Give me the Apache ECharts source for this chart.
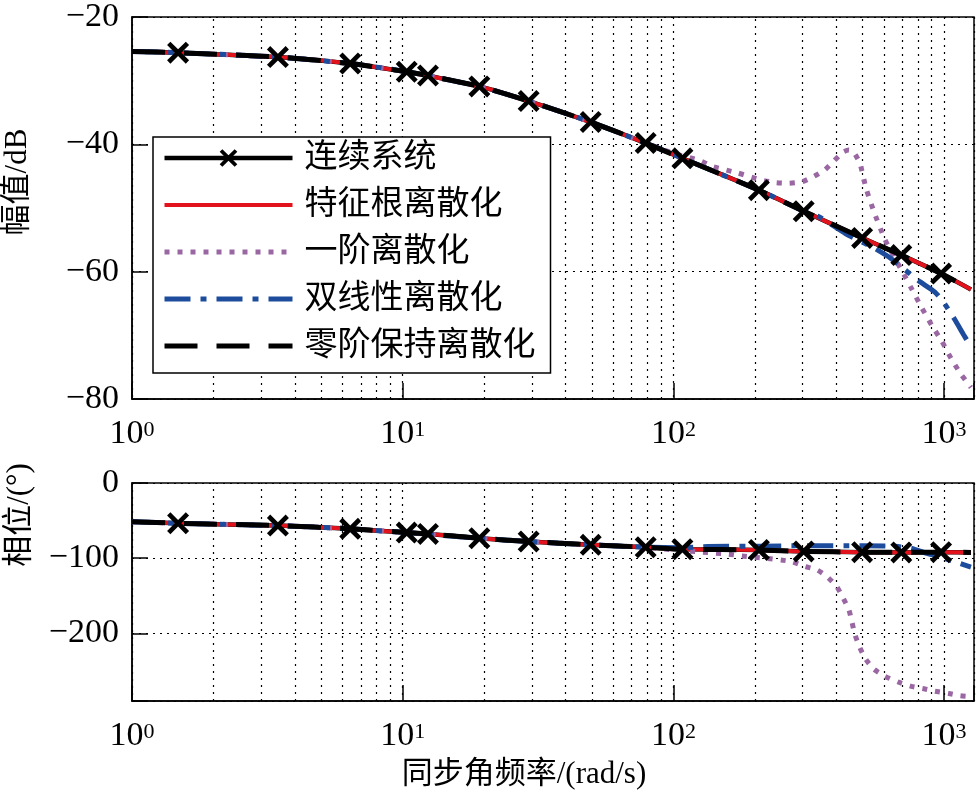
<!DOCTYPE html>
<html>
<head>
<meta charset="utf-8">
<script src="https://cdn.jsdelivr.net/npm/echarts@6/dist/echarts.min.js"></script>
<style>
html,body{margin:0;padding:0;background:#fff;}
#chart{width:977px;height:793px;}
</style>
</head>
<body>
<div id="chart"></div>
<script>
// ---------- data ----------
const seriesNames = ['连续系统', '特征根离散化', '一阶离散化', '双线性离散化', '零阶保持离散化'];
const xTitle = '同步角频率/(rad/s)';
const magTitle = '幅值/dB';
const phaseTitle = '相位/(°)';

// continuous system (markers at interior points)
const contFreq  = [1, 1.48, 3.46, 6.4, 10.35, 12.4, 19.2, 29.2, 49.5, 79, 108, 207, 303, 498, 695, 975, 1257];
const contMag   = [-25.4, -25.6, -26.3, -27.3, -28.6, -29.2, -30.9, -33.2, -36.5, -39.8, -42.2, -47.2, -50.5, -54.7, -57.4, -60.3, -62.8];
const contPhase = [-51.4, -53.6, -56.7, -61, -66, -67.7, -73.5, -77.9, -82.3, -85.4, -88, -89, -91, -92, -92.3, -92, -92.3];

// eigenvalue (root) discretization
const eigFreq  = [1, 1.48, 3.46, 6.4, 10.35, 12.4, 19.2, 29.2, 49.5, 79, 108, 207, 303, 498, 695, 975, 1257];
const eigMag   = [-25.4, -25.6, -26.3, -27.3, -28.6, -29.2, -30.9, -33.2, -36.5, -39.8, -42.2, -47.2, -50.5, -54.7, -57.4, -60.3, -62.8];
const eigPhase = [-51.4, -53.6, -56.7, -61, -66, -67.7, -73.5, -77.9, -82.3, -85.4, -88, -89, -91, -92, -92.3, -92, -92.3];

// first-order discretization
const foMagFreq = [1, 1.48, 3.46, 6.4, 10.35, 19.2, 29.2, 49.5, 79, 100, 124, 140, 173, 211, 238, 266, 298, 330, 363, 390, 424, 445, 463, 489, 515, 552, 604, 660, 710, 757, 818, 900, 980, 1061, 1150, 1257];
const foMag     = [-25.4, -25.6, -26.3, -27.3, -28.6, -30.9, -33.2, -36.5, -39.8, -41.4, -42.5, -43.5, -44.5, -45.6, -46.0, -46.1, -45.9, -45.05, -44.0, -42.7, -41.2, -40.9, -41.2, -43.0, -46.9, -50.7, -54.9, -58.0, -60.4, -62.6, -65.3, -68.4, -70.9, -73.6, -76.0, -78.2];
const foPhFreq  = [1, 1.48, 3.46, 6.4, 10.35, 19.2, 29.2, 49.5, 79, 100, 128, 160, 179, 218, 273, 306, 339, 368, 401, 421, 445, 456, 469, 489, 515, 552, 604, 680, 757, 850, 925, 1040, 1146, 1257];
const foPhase   = [-51.4, -53.6, -56.7, -61, -66, -73.5, -77.9, -82.3, -85.4, -89, -92, -94.7, -97, -100, -104.5, -111, -115.5, -124, -137.7, -151, -168.7, -184, -202, -219.5, -235, -248, -257, -265, -270.5, -274, -277, -280, -283, -284];

// bilinear discretization
const blMagFreq = [1, 1.48, 3.46, 6.4, 10.35, 19.2, 29.2, 49.5, 79, 108, 207, 303, 346, 432, 552, 640, 803, 925, 1010, 1098, 1181, 1257];
const blMag     = [-25.4, -25.6, -26.3, -27.3, -28.6, -30.9, -33.2, -36.5, -39.8, -42.2, -47.2, -50.5, -51.4, -54.0, -56.3, -58.0, -61.4, -63.2, -65.2, -67.6, -69.9, -71.8];
const blPhFreq  = [1, 1.48, 3.46, 6.4, 10.35, 19.2, 29.2, 49.5, 79, 108, 134, 207, 303, 498, 650, 760, 850, 920, 1000, 1100, 1257];
const blPhase   = [-51.4, -53.6, -56.7, -61, -66, -73.5, -77.9, -82.3, -85.4, -86, -84.5, -84, -83.5, -83.5, -84, -87, -93, -96, -100, -105, -112];

// zero-order-hold discretization
const zohFreq  = [1, 1.48, 3.46, 6.4, 10.35, 12.4, 19.2, 29.2, 49.5, 79, 108, 207, 303, 498, 695, 975, 1257];
const zohMag   = [-25.4, -25.6, -26.3, -27.3, -28.6, -29.2, -30.9, -33.2, -36.5, -39.8, -42.2, -47.2, -50.5, -54.7, -57.4, -60.3, -62.8];
const zohPhase = [-51.4, -53.6, -56.7, -61, -66, -67.7, -73.5, -77.9, -82.3, -85.4, -88, -89, -91, -92, -92.3, -92, -92.3];

// axes
const xRange = [1, 1290];
const magRange = [-80, -20];
const magStep = 20;
const phaseRange = [-290, 0];
const phaseStep = 100;
const minorGridX = [2,3,4,5,6,7,8,9,20,30,40,50,60,70,80,90,200,300,400,500,600,700,800,900];

// ---------- styling ----------
const SERIF = "'Liberation Serif', 'Times New Roman', 'Noto Sans CJK SC', serif";
const TITLE_FONT = "31px 'Liberation Serif', 'Noto Sans CJK SC', serif";
const C_RED = '#e3131d';
const C_PURPLE = '#9a67a3';
const C_BLUE = '#1e4c9c';
const X_SYMBOL = 'path://M0,15 L15,0 L50,35 L85,0 L100,15 L65,50 L100,85 L85,100 L50,65 L15,100 L0,85 L35,50 Z';
const W = { cont: 4.5, eig: 4, fo: 5, bl: 5, zoh: 5 };

const zip = (xs, ys) => xs.map((x, i) => [x, ys[i]]);
const minus = v => String(v).replace('-', '\u2212');

function xAxisCfg(gi) {
  return {
    type: 'log', logBase: 10, gridIndex: gi, min: xRange[0], max: xRange[1],
    axisLine: { onZero: false, lineStyle: { color: '#000', width: 1.5 } },
    axisTick: { inside: true, length: 16, lineStyle: { color: '#000', width: 1.5 } },
    splitLine: { show: true, lineStyle: { color: '#000', width: 1.2, type: [2, 5] } },
    axisLabel: {
      margin: 18,
      formatter: v => {
        const e = Math.log10(v), r = Math.round(e);
        if (Math.abs(e - r) > 1e-6) return '';
        return '{b|10}{s|' + r + '}';
      },
      rich: {
        b: { fontSize: 34, fontFamily: SERIF, color: '#000', lineHeight: 34 },
        s: { fontSize: 22, fontFamily: SERIF, color: '#000', lineHeight: 22, padding: [0, 0, 8, 0] }
      }
    }
  };
}
function yAxisCfg(gi, range, step, useSplitNumber) {
  const cfg = {
    type: 'value', gridIndex: gi, min: range[0], max: range[1],
    axisLine: { show: true, onZero: false, lineStyle: { color: '#000', width: 1.5 } },
    axisTick: { inside: true, length: 16, lineStyle: { color: '#000', width: 1.5 } },
    splitLine: { show: true, lineStyle: { color: '#000', width: 1.2, type: [2, 5] } },
    axisLabel: {
      margin: 13, fontSize: 34, fontFamily: SERIF, color: '#000',
      formatter: v => (Math.abs(v % step) > 1e-6 ? '' : minus(v))
    }
  };
  if (useSplitNumber) cfg.splitNumber = 3; else cfg.interval = step;
  return cfg;
}
function markGrid() {
  return {
    silent: true, symbol: ['none', 'none'], label: { show: false }, z: 1, animation: false,
    lineStyle: { color: '#000', width: 1.2, type: [2, 5] },
    emphasis: { disabled: true },
    data: minorGridX.map(v => ({ xAxis: v }))
  };
}
function lineSeries(name, gi, data, style, z, extra) {
  return Object.assign({
    name, type: 'line', xAxisIndex: gi, yAxisIndex: gi, data,
    symbol: 'none', showSymbol: false, smooth: 0.2, z,
    lineStyle: style, itemStyle: { color: style.color },
    emphasis: { disabled: true }, animation: false
  }, extra || {});
}

const series = [];
[0, 1].forEach(gi => {
  const mag = gi === 0;
  series.push(lineSeries(seriesNames[0], gi, zip(contFreq, mag ? contMag : contPhase),
    { color: '#000', width: W.cont, type: 'solid' }, 2,
    { symbol: X_SYMBOL, symbolSize: 21, itemStyle: { color: '#000', opacity: 1 }, markLine: markGrid() }));
  series.push(lineSeries(seriesNames[1], gi, zip(eigFreq, mag ? eigMag : eigPhase),
    { color: C_RED, width: W.eig, type: 'solid' }, 3));
  series.push(lineSeries(seriesNames[2], gi, mag ? zip(foMagFreq, foMag) : zip(foPhFreq, foPhase),
    { color: C_PURPLE, width: W.fo, type: [5, 8], cap: 'butt' }, 4));
  series.push(lineSeries(seriesNames[3], gi, mag ? zip(blMagFreq, blMag) : zip(blPhFreq, blPhase),
    { color: C_BLUE, width: W.bl, type: [26, 10, 6, 10], cap: 'butt' }, 5));
  series.push(lineSeries(seriesNames[4], gi, zip(zohFreq, mag ? zohMag : zohPhase),
    { color: '#000', width: W.zoh, type: [33, 19], cap: 'butt' }, 6));
  // markers of the continuous system drawn on top
  series.push({
    name: seriesNames[0] + '标记', type: 'scatter', xAxisIndex: gi, yAxisIndex: gi,
    data: zip(contFreq, mag ? contMag : contPhase).slice(1, -1),
    symbol: X_SYMBOL, symbolSize: 22, itemStyle: { color: '#000', opacity: 1 }, z: 8,
    emphasis: { disabled: true }, animation: false, silent: true
  });
});

const hidden = { opacity: 0 };
const chart = echarts.init(document.getElementById('chart'), null, { renderer: 'canvas' });
chart.setOption({
  animation: false,
  backgroundColor: '#fff',
  grid: [
    { left: 132, top: 12, width: 844, height: 387, show: true, borderColor: '#000', borderWidth: 1.5, backgroundColor: 'transparent' },
    { left: 132, top: 483, width: 844, height: 218, show: true, borderColor: '#000', borderWidth: 1.5, backgroundColor: 'transparent' }
  ],
  xAxis: [xAxisCfg(0), xAxisCfg(1)],
  yAxis: [yAxisCfg(0, magRange, magStep, false), yAxisCfg(1, phaseRange, phaseStep, true)],
  legend: {
    data: [
      { name: seriesNames[0], lineStyle: { width: W.cont }, itemStyle: { color: '#000', opacity: 1 } },
      { name: seriesNames[1], lineStyle: { width: W.eig }, itemStyle: hidden },
      { name: seriesNames[2], lineStyle: { width: W.fo }, itemStyle: hidden },
      { name: seriesNames[3], lineStyle: { width: W.bl }, itemStyle: hidden },
      { name: seriesNames[4], lineStyle: { width: W.zoh }, itemStyle: hidden }
    ],
    orient: 'vertical', left: 153, top: 137,
    backgroundColor: '#fff', borderColor: '#000', borderWidth: 1.5, borderRadius: 0,
    padding: [3, 15, 9, 9],
    itemWidth: 128, itemHeight: 22, itemGap: 11,
    selectedMode: false,
    textStyle: { fontSize: 33, lineHeight: 36, fontFamily: SERIF, color: '#000', padding: [0, 0, 0, 7] }
  },
  graphic: [
    { type: 'text', x: 18, y: 182, rotation: Math.PI / 2, style: { text: magTitle, font: TITLE_FONT, fill: '#000', align: 'center', verticalAlign: 'middle' } },
    { type: 'text', x: 20, y: 515, rotation: Math.PI / 2, style: { text: phaseTitle, font: TITLE_FONT, fill: '#000', align: 'center', verticalAlign: 'middle' } },
    { type: 'text', x: 524, y: 775, style: { text: xTitle, font: TITLE_FONT, fill: '#000', align: 'center', verticalAlign: 'middle' } }
  ],
  series
});
</script>
</body>
</html>
